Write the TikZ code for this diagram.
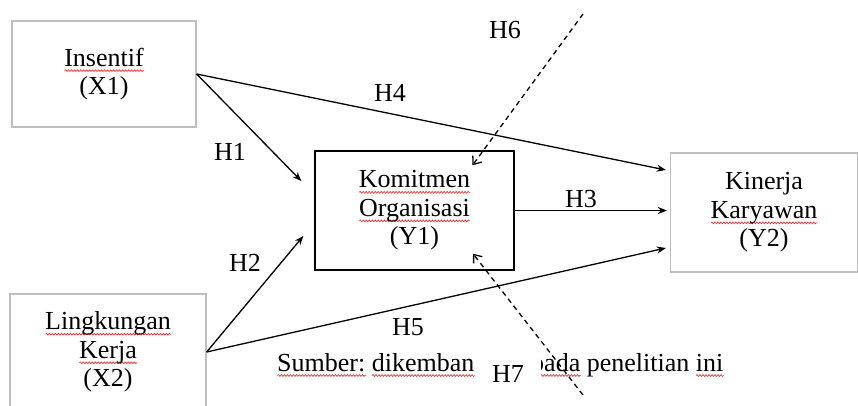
\documentclass[tikz,border=0pt]{standalone}
\usepackage{fontspec}
\setmainfont{Liberation Serif}
\usepackage{xcolor}
\definecolor{boxgray}{RGB}{191,191,191}
\definecolor{spellred}{RGB}{230,30,30}
\usetikzlibrary{arrows.meta,decorations.pathmorphing,calc}

% red wavy underline of a word
\newsavebox\sqbox
\newlength\sqlen
\newcommand\squig[1]{%
  \sbox\sqbox{#1}\setlength\sqlen{\wd\sqbox}%
  \rlap{\tikz[baseline=0pt]\draw[spellred, line width=0.6pt, solid, decorate,
    decoration={snake, amplitude=0.9pt, segment length=3pt}] (0pt,-4.5pt) -- (\sqlen,-4.5pt);}%
  \usebox\sqbox}

\begin{document}
\begin{tikzpicture}[x=1pt, y=-1pt, font=\fontsize{26}{28.5}\selectfont,
    varbox/.style={draw=boxgray, line width=1.3pt, align=center, inner sep=0pt},
    mainbox/.style={draw=black, line width=1.4pt, align=center, inner sep=0pt},
    hyp/.style={line width=1.3pt, -{Stealth[length=9pt, width=7pt]}},
    hypdash/.style={line width=1.3pt, dash pattern=on 5pt off 4pt,
      -{Straight Barb[length=7pt, width=11pt]}}]
    \useasboundingbox (0,0) rectangle (858,405);
    \clip (0,0) rectangle (858,405);

    % Variables
    \node[varbox, minimum width=184, minimum height=106] (x1) at (104,74)
        {\squig{Insentif}\\(X1)};
    \node[varbox, minimum width=196, minimum height=116] (x2) at (108,352)
        {\squig{Lingkungan}\\\squig{Kerja}\\(X2)};
    \node[mainbox, minimum width=199, minimum height=119] (y1) at (414.5,210.5)
        {\squig{Komitmen}\\\squig{Organisasi}\\(Y1)};
    \node[varbox, minimum width=187, minimum height=119] (y2) at (764,212.5)
        {Kinerja\\\squig{Karyawan}\\(Y2)};

    % Direct paths
    \draw[hyp] (x1.east) -- ([shift={(-13,-29.5)}]y1.west);
    \draw[hyp] (x2.east) -- ([shift={(-11,25.5)}]y1.west);
    \draw[hyp] (x1.east) -- ([shift={(-4,-42.5)}]y2.west);
    \draw[hyp] (y1.east) -- ([shift={(-3,0)}]y1.east -| y2.west);
    \draw[hyp] (x2.east) -- ([shift={(-4,35.5)}]y2.west);

    % Hypothesis labels
    \node (h1) at (230,152) {H1};
    \node (h2) at (245,263) {H2};
    \node (h3) at (581,199) {H3};
    \node (h4) at (390,93) {H4};
    \node (h5) at (408,327) {H5};
    \node (h6) at (505,30) {H6};

    % Source note (partly hidden behind H7)
    \node[anchor=base west, inner sep=0pt] (src1) at (277,371)
        {\squig{Sumber:} \squig{dikemban}};
    \node[anchor=base west, inner sep=0pt] (src2) at (531,371)
        {\squig{pada} penelitian \squig{ini}};
    \node[fill=white, minimum width=66, minimum height=52, inner sep=0pt] (h7) at (508,374) {H7};

    % Mediation paths
    \coordinate (m6) at (583,14);
    \coordinate (m7) at (583,395);
    \draw[hypdash] (m6) -- ([shift={(58,15)}]y1.north);
    \draw[hypdash] (m7) -- ([shift={(58.5,-17)}]y1.south);
\end{tikzpicture}
\end{document}
